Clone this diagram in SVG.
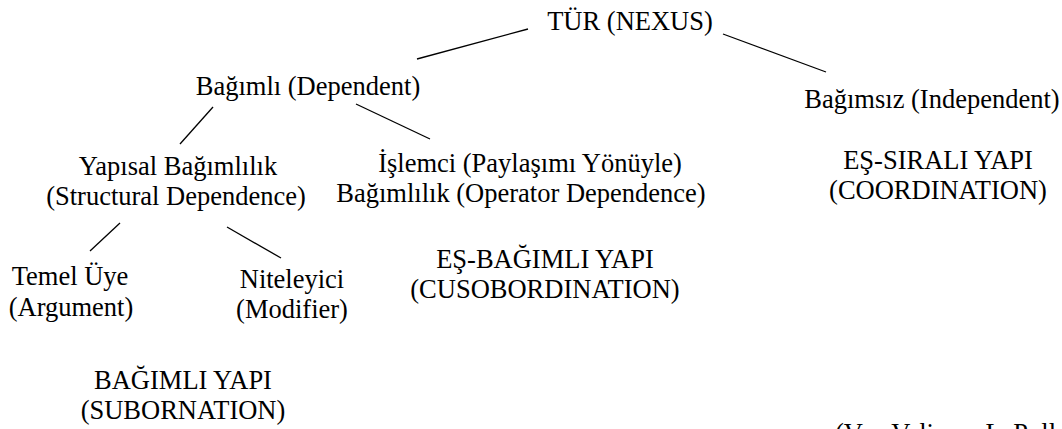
<svg xmlns="http://www.w3.org/2000/svg" width="1062" height="429" viewBox="0 0 1062 429">
<style>
text{font-family:"Liberation Serif","Times New Roman",serif;font-size:26.5px;fill:#000;text-anchor:middle}
.c line{stroke:#000;stroke-width:1.3}
</style>
<rect width="1062" height="429" fill="#fff"/>
<g class="c" id="connectors">
<line x1="417" y1="59" x2="528" y2="29"/>
<line x1="723" y1="34" x2="826" y2="72"/>
<line x1="213" y1="107" x2="180" y2="144"/>
<line x1="356" y1="104" x2="430" y2="139"/>
<line x1="120" y1="223" x2="90" y2="251"/>
<line x1="227" y1="227" x2="281" y2="258"/>
</g>
<g id="nexus"><text x="630" y="30">TÜR (NEXUS)</text></g>
<g id="dependent"><text x="308" y="95">Bağımlı (Dependent)</text></g>
<g id="independent"><text x="932" y="108">Bağımsız (Independent)</text></g>
<g id="coordination"><text x="938" y="169">EŞ-SIRALI YAPI</text><text x="938" y="199">(COORDINATION)</text></g>
<g id="structural"><text x="178" y="175">Yapısal Bağımlılık</text><text x="176" y="205">(Structural Dependence)</text></g>
<g id="operator"><text x="530" y="172">İşlemci (Paylaşımı Yönüyle)</text><text x="521" y="202">Bağımlılık (Operator Dependence)</text></g>
<g id="argument"><text x="70" y="285">Temel Üye</text><text x="71" y="316">(Argument)</text></g>
<g id="modifier"><text x="292" y="288">Niteleyici</text><text x="292" y="318">(Modifier)</text></g>
<g id="cosubordination"><text x="545" y="268">EŞ-BAĞIMLI YAPI</text><text x="545" y="298">(CUSOBORDINATION)</text></g>
<g id="subordination"><text x="183" y="389">BAĞIMLI YAPI</text><text x="183" y="419">(SUBORNATION)</text></g>
<g id="source"><text x="835" y="442" style="text-anchor:start">(Van Valin ve LaPolla 1997: 454)</text></g>
</svg>
